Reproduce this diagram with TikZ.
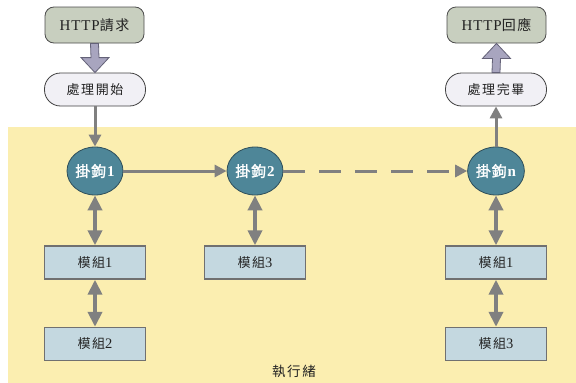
\documentclass[tikz,border=0pt]{standalone}
\usepackage{fontspec}
\setmainfont{Liberation Serif}
\newfontfamily\cjk[LetterSpace=12]{Noto Sans CJK TC}
\newfontfamily\cjkb[LetterSpace=6,FakeBold=1.5]{Noto Sans CJK TC}
\newfontfamily\latinwide[LetterSpace=6]{Liberation Serif}
\usetikzlibrary{arrows.meta,calc,shapes.geometric}

\definecolor{threadbg}{RGB}{251,238,176}
\definecolor{httpfill}{RGB}{200,207,191}
\definecolor{stepfill}{RGB}{241,240,245}
\definecolor{hookfill}{RGB}{78,134,152}
\definecolor{hookline}{RGB}{47,79,90}
\definecolor{modfill}{RGB}{196,216,224}
\definecolor{modline}{RGB}{112,112,112}
\definecolor{linkgray}{RGB}{128,128,128}
\definecolor{bigfill}{RGB}{168,165,191}
\definecolor{bigline}{RGB}{100,98,120}
\definecolor{ink}{RGB}{34,34,34}

\tikzset{
  httpbox/.style={draw=black!70, line width=0.8pt, fill=httpfill, rounded corners=9pt,
    minimum width=99pt, minimum height=36pt, inner sep=0pt, text=ink, font=\fontsize{15}{17}\selectfont},
  stagebox/.style={draw=black!75, line width=0.8pt, fill=stepfill, rounded corners=16pt,
    minimum width=101pt, minimum height=33pt, inner sep=0pt, text=ink, font=\fontsize{13}{15}\selectfont\cjk},
  hook/.style={ellipse, draw=hookline, line width=0.8pt, fill=hookfill,
    minimum width=56pt, minimum height=48pt, inner sep=0pt, text=white, font=\fontsize{15}{17}\selectfont},
  modbox/.style={draw=modline, line width=1.4pt, fill=modfill,
    minimum width=101pt, minimum height=33pt, inner sep=0pt, text=ink, font=\fontsize{14.5}{16}\selectfont},
  flow/.style={draw=linkgray, line width=3pt, -{Triangle[width=12pt,length=12pt]}},
  dashflow/.style={flow, dash pattern=on 22pt off 14pt},
  both/.style={draw=linkgray, line width=4pt, {Triangle[width=14pt,length=15pt]}-{Triangle[width=14pt,length=15pt]}},
  bigarrow/.style={draw=bigline, line width=0.8pt, fill=bigfill, line join=miter},
}

\begin{document}
\begin{tikzpicture}[x=1pt, y=-1pt]
\useasboundingbox (0,0) rectangle (576,383);

% thread area
\fill[threadbg] (8,127) rectangle (576,383);
\node[font=\fontsize{13.5}{15}\selectfont\cjk, text=ink] (thread) at (294,371) {執行緒};

% request side
\node[httpbox] (req) at (94.5,25) {{\latinwide HTTP}{\fontsize{14}{16}\selectfont\cjk 請求}};
\node[stagebox] (begin) at (95,89.5) {處理開始};
% response side
\node[httpbox] (resp) at (496.5,25) {{\latinwide HTTP}{\fontsize{14}{16}\selectfont\cjk 回應}};
\node[stagebox] (finish) at (496,89.5) {處理完畢};

% block arrows between request/response and processing stages
\draw[bigarrow] ($(req.south)+(-4,0)$) -- ($(req.south)+(4,0)$) -- ($(begin.north)+(4,-15)$)
  -- ($(begin.north)+(14,-15)$) -- (begin.north) -- ($(begin.north)+(-14,-15)$)
  -- ($(begin.north)+(-4,-15)$) -- cycle;
\draw[bigarrow] ($(finish.north)+(-4,0)$) -- ($(finish.north)+(4,0)$) -- ($(resp.south)+(4,15)$)
  -- ($(resp.south)+(14,15)$) -- (resp.south) -- ($(resp.south)+(-14,15)$)
  -- ($(resp.south)+(-4,15)$) -- cycle;

% hooks
\node[hook] (h1) at (95,171) {{\cjkb 掛鉤}\textbf{1}};
\node[hook] (h2) at (255,171) {{\cjkb 掛鉤}\textbf{2}};
\node[hook] (hn) at (496,171) {{\cjkb 掛鉤}\textbf{n}};

% modules
\node[modbox] (m11) at (95,262.5) {{\fontsize{13}{15}\selectfont\cjk 模組}1};
\node[modbox] (m12) at (95,344) {{\fontsize{13}{15}\selectfont\cjk 模組}2};
\node[modbox] (m23) at (255,262.5) {{\fontsize{13}{15}\selectfont\cjk 模組}3};
\node[modbox] (mn1) at (496,262.5) {{\fontsize{13}{15}\selectfont\cjk 模組}1};
\node[modbox] (mn3) at (496,344) {{\fontsize{13}{15}\selectfont\cjk 模組}3};

% flow of the request through the hooks
\draw[flow] (begin.south) -- (h1.north);
\draw[flow] (h1.east) -- (h2.west);
\draw[dashflow] (h2.east) -- (hn.west);
\draw[flow] (hn.north) -- (finish.south);

% hooks and their modules
\draw[both] (h1.south) -- (m11.north);
\draw[both] (m11.south) -- (m12.north);
\draw[both] (h2.south) -- (m23.north);
\draw[both] (hn.south) -- (mn1.north);
\draw[both] (mn1.south) -- (mn3.north);
\end{tikzpicture}
\end{document}
